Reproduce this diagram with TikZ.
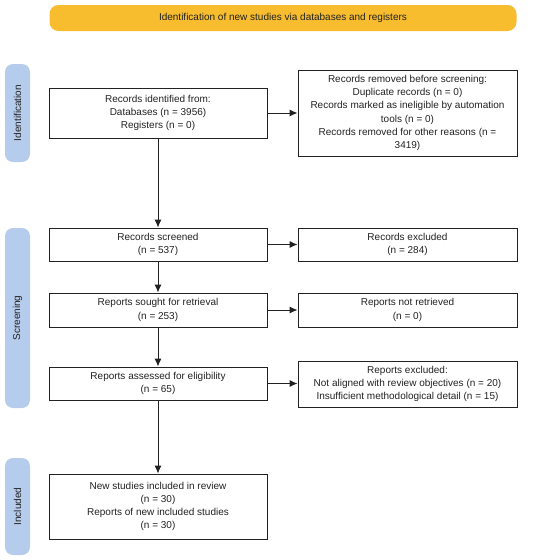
\documentclass[tikz,border=0pt]{standalone}
\usepackage{fontspec}
\setmainfont{Liberation Sans}
\usetikzlibrary{arrows.meta}
\definecolor{barY}{HTML}{F7BD2E}
\definecolor{barB}{HTML}{B6CCEC}
\definecolor{ink}{HTML}{222222}
\begin{document}
\begin{tikzpicture}[x=1pt,y=-1pt,
  txt/.style={font=\fontsize{10}{13.2}\selectfont, text=ink},
  box/.style={txt, draw=ink, line width=0.9pt, fill=white, align=center, inner sep=2pt},
  lbox/.style={box, minimum width=218pt},
  rbox/.style={box, minimum width=219pt},
  side/.style={fill=barB, rounded corners=8pt},
  sidelab/.style={txt, rotate=90},
  conn/.style={draw=ink, line width=0.9pt, -{Latex[length=8pt,width=7pt]}}
]
\useasboundingbox (0,0) rectangle (550,560);
% header
\node[txt, fill=barY, rounded corners=9pt, minimum width=467pt, minimum height=26pt] (head) at (283,18) {Identification of new studies via databases and registers};
% side bars
\node[side, minimum width=25pt, minimum height=98pt] (sideI) at (17.5,113) {};
\node[sidelab] (labI) at (sideI.center) {Identification};
\node[side, minimum width=25pt, minimum height=180pt] (sideS) at (17.5,318) {};
\node[sidelab] (labS) at (sideS.center) {Screening};
\node[side, minimum width=25pt, minimum height=97pt] (sideN) at (17.5,506.5) {};
\node[sidelab] (labN) at (sideN.center) {Included};
% boxes
\node[lbox, minimum height=50pt] (ident) at (158,113) {Records identified from:\\Databases (n = 3956)\\Registers (n = 0)};
\node[rbox, minimum height=86pt] (removed) at (407.5,113) {Records removed before screening:\\Duplicate records (n = 0)\\Records marked as ineligible by automation\\tools (n = 0)\\Records removed for other reasons (n =\\3419)};
\node[lbox, minimum height=33pt] (screened) at (158,244.5) {Records screened\\(n = 537)};
\node[rbox, minimum height=33pt] (excluded) at (407.5,244.5) {Records excluded\\(n = 284)};
\node[lbox, minimum height=34pt] (sought) at (158,310) {Reports sought for retrieval\\(n = 253)};
\node[rbox, minimum height=34pt] (notret) at (407.5,310) {Reports not retrieved\\(n = 0)};
\node[lbox, minimum height=33pt] (assessed) at (158,383.5) {Reports assessed for eligibility\\(n = 65)};
\node[rbox, minimum height=46pt] (repexcl) at (407.5,384) {Reports excluded:\\Not aligned with review objectives (n = 20)\\Insufficient methodological detail (n = 15)};
\node[lbox, minimum height=65pt] (included) at (158,506.5) {New studies included in review\\(n = 30)\\Reports of new included studies\\(n = 30)};
% connectors
\draw[conn] (ident.east) -- (removed.west);
\draw[conn] (screened.east) -- (excluded.west);
\draw[conn] (sought.east) -- (notret.west);
\draw[conn] (assessed.east) -- (assessed.east -| repexcl.west);
\draw[conn] (ident.south) -- (screened.north);
\draw[conn] (screened.south) -- (sought.north);
\draw[conn] (sought.south) -- (assessed.north);
\draw[conn] (assessed.south) -- (included.north);
\end{tikzpicture}
\end{document}
